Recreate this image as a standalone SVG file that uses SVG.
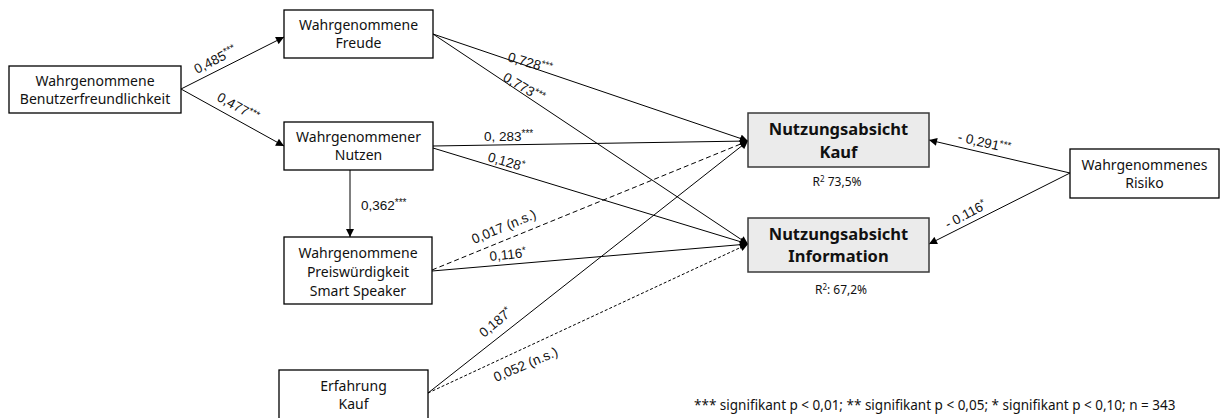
<svg xmlns="http://www.w3.org/2000/svg" width="1227" height="418" viewBox="0 0 1227 418">
<style>
.box{fill:#fff;stroke:#000;stroke-width:1.3}
.gbox{fill:#ebebeb;stroke:#3a3a3a;stroke-width:1.5}
.t{font-family:"Noto Sans","Open Sans",sans-serif;font-size:14px;fill:#111;text-anchor:middle}
.tb{font-family:"Noto Sans","Open Sans",sans-serif;font-size:16.5px;font-weight:bold;fill:#111;text-anchor:middle}
.r{font-family:"Noto Sans","Open Sans",sans-serif;font-size:12px;fill:#111;text-anchor:middle}
.lbl{font-family:"Liberation Sans",Arial,sans-serif;font-size:13.5px;fill:#111}
.sup{font-size:10px}
.e{fill:none;stroke:#000;stroke-width:1}
.dash{stroke-dasharray:5,3}
.dot{stroke-dasharray:3,2}
.fn{font-family:"Noto Sans","Open Sans",sans-serif;font-size:13.5px;fill:#111}
</style>
<defs>
<marker id="ah" viewBox="0 0 10 10" refX="10" refY="5" markerWidth="9" markerHeight="8" markerUnits="userSpaceOnUse" orient="auto">
<path d="M0,0 L10,5 L0,10 z" fill="#000"/>
</marker>
</defs>
<g id="connectors">
<path class="e" d="M181,89 L284,37" marker-end="url(#ah)"/>
<path class="e" d="M181,89 L284,146" marker-end="url(#ah)"/>
<path class="e" d="M433,34 L748,141" marker-end="url(#ah)"/>
<path class="e" d="M433,34 L748,244" marker-end="url(#ah)"/>
<path class="e" d="M433,146 L748,141" marker-end="url(#ah)"/>
<path class="e" d="M433,148 L748,244" marker-end="url(#ah)"/>
<path class="e" d="M350,170 L350,237" marker-end="url(#ah)"/>
<path class="e dash" d="M432,270 L748,141" marker-end="url(#ah)"/>
<path class="e" d="M432,271 L748,244" marker-end="url(#ah)"/>
<path class="e" d="M428,393 L748,141" marker-end="url(#ah)"/>
<path class="e dot" d="M428,393 L748,244" marker-end="url(#ah)"/>
<path class="e" d="M1070,173 L929,140" marker-end="url(#ah)"/>
<path class="e" d="M1070,173 L929,244" marker-end="url(#ah)"/>
</g>
<g id="edge-labels">
<text class="lbl" transform="translate(197,74) rotate(-27)">0,485<tspan class="sup" dy="-4">***</tspan></text>
<text class="lbl" transform="translate(216,100) rotate(29)">0,477<tspan class="sup" dy="-4">***</tspan></text>
<text class="lbl" transform="translate(507,61) rotate(16)">0,728<tspan class="sup" dy="-4">***</tspan></text>
<text class="lbl" transform="translate(502,80) rotate(30)">0,773<tspan class="sup" dy="-4">***</tspan></text>
<text class="lbl" transform="translate(484,141)">0, 283<tspan class="sup" dy="-4">***</tspan></text>
<text class="lbl" transform="translate(487,161) rotate(16)">0,128<tspan class="sup" dy="-4">*</tspan></text>
<text class="lbl" transform="translate(361,210)">0,362<tspan class="sup" dy="-4">***</tspan></text>
<text class="lbl" transform="translate(474,244) rotate(-22.5)">0,017 (n.s.)</text>
<text class="lbl" transform="translate(490,261) rotate(-6)">0,116<tspan class="sup" dy="-4">*</tspan></text>
<text class="lbl" transform="translate(484,338) rotate(-40)">0,187<tspan class="sup" dy="-4">*</tspan></text>
<text class="lbl" transform="translate(496,382) rotate(-23)">0,052 (n.s.)</text>
<text class="lbl" transform="translate(957,141) rotate(13)">- 0,291<tspan class="sup" dy="-4">***</tspan></text>
<text class="lbl" transform="translate(948,229) rotate(-28)">- 0.116<tspan class="sup" dy="-4">*</tspan></text>
</g>
<g id="n-benutzer">
<rect class="box" x="9" y="66" width="172" height="47"/>
<text class="t" x="95" y="86">Wahrgenommene</text>
<text class="t" x="95" y="104">Benutzerfreundlichkeit</text>
</g>
<g id="n-freude">
<rect class="box" x="284" y="10" width="149" height="48"/>
<text class="t" x="358.5" y="30">Wahrgenommene</text>
<text class="t" x="358.5" y="48">Freude</text>
</g>
<g id="n-nutzen">
<rect class="box" x="284" y="122" width="149" height="48"/>
<text class="t" x="358.5" y="142">Wahrgenommener</text>
<text class="t" x="358.5" y="160">Nutzen</text>
</g>
<g id="n-preis">
<rect class="box" x="284" y="237" width="148" height="67"/>
<text class="t" x="358" y="258">Wahrgenommene</text>
<text class="t" x="358" y="277">Preiswürdigkeit</text>
<text class="t" x="358" y="296">Smart Speaker</text>
</g>
<g id="n-erfahrung">
<rect class="box" x="279" y="370" width="149" height="52"/>
<text class="t" x="353.5" y="391">Erfahrung</text>
<text class="t" x="353.5" y="409">Kauf</text>
</g>
<g id="n-kauf">
<rect class="gbox" x="748" y="113" width="181" height="54"/>
<text class="tb" x="838.5" y="135">Nutzungsabsicht</text>
<text class="tb" x="838.5" y="158">Kauf</text>
<text class="r" x="837" y="186">R<tspan font-size="8" dy="-4">2</tspan><tspan dy="4"> 73,5%</tspan></text>
</g>
<g id="n-info">
<rect class="gbox" x="748" y="218" width="181" height="54"/>
<text class="tb" x="838.5" y="240">Nutzungsabsicht</text>
<text class="tb" x="838.5" y="262">Information</text>
<text class="r" x="841" y="294">R<tspan font-size="8" dy="-4">2</tspan><tspan dy="4">: 67,2%</tspan></text>
</g>
<g id="n-risiko">
<rect class="box" x="1070" y="149" width="149" height="49"/>
<text class="t" x="1144.5" y="170">Wahrgenommenes</text>
<text class="t" x="1144.5" y="188">Risiko</text>
</g>
<text class="fn" x="694" y="410">*** signifikant p &lt; 0,01; ** signifikant p &lt; 0,05; * signifikant p &lt; 0,10; n = 343</text>
</svg>
